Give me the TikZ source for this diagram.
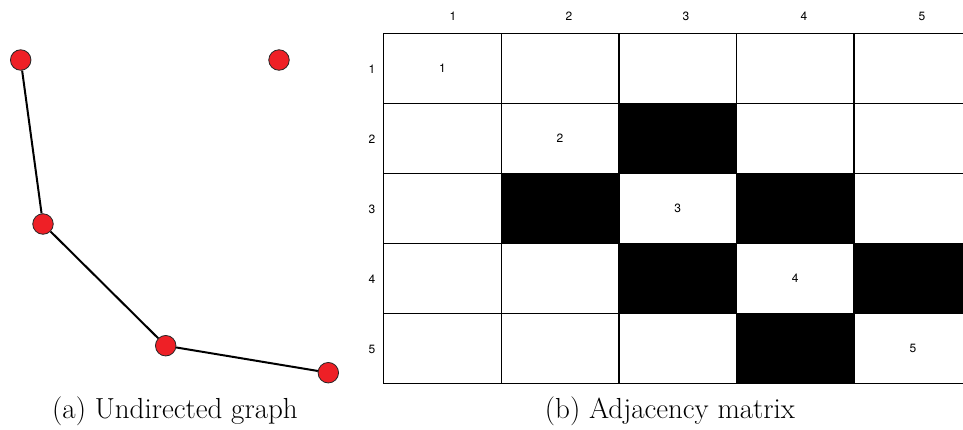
\documentclass[tikz,border=0pt]{standalone}
\usepackage{fontspec}
\newfontfamily\numfont{TeX Gyre Heros}
\definecolor{nodered}{HTML}{EE2026}
\tikzset{
  vtx/.style={circle, draw=black!85, line width=0.8pt, fill=nodered, minimum size=20.5pt, inner sep=0pt},
  edge/.style={line width=2pt, black},
  cell/.style={draw=black, line width=1.3pt, minimum width=117.6pt, minimum height=70pt, inner sep=0pt, anchor=north west, font=\numfont\fontsize{12}{14}\selectfont},
  blk/.style={cell, fill=black},
  lbl/.style={font=\numfont\fontsize{12}{14}\selectfont, inner sep=0pt},
  captext/.style={font=\fontsize{29}{33}\selectfont, inner sep=0pt}
}
\begin{document}
\begin{tikzpicture}[x=1pt, y=-1pt]
\useasboundingbox (0,0) rectangle (963,429);
\fill[white] (0,0) rectangle (963,429);
% graph
\node[vtx] (v1) at (20.7,60) {};
\node[vtx] (v2) at (279,60) {};
\node[vtx] (v3) at (43,224) {};
\node[vtx] (v4) at (165.7,345.7) {};
\node[vtx] (v5) at (328.3,372.7) {};
\draw[edge] (v1) -- (v3);
\draw[edge] (v3) -- (v4);
\draw[edge] (v4) -- (v5);
% matrix
\begin{scope}
\clip (0,0) rectangle (963,429);
\foreach \r in {1,...,5}{
  \foreach \c in {1,...,5}{
    \pgfmathtruncatemacro{\d}{abs(\r-\c)}
    \pgfmathtruncatemacro{\m}{min(\r,\c)}
    \ifnum\d=1
      \ifnum\m>1
        \node[blk] (c\r\c) at ({383+(\c-1)*117.6},{33+(\r-1)*70}) {};
      \else
        \node[cell] (c\r\c) at ({383+(\c-1)*117.6},{33+(\r-1)*70}) {};
      \fi
    \else
      \ifnum\d=0
        \node[cell] (c\r\c) at ({383+(\c-1)*117.6},{33+(\r-1)*70}) {\r};
      \else
        \node[cell] (c\r\c) at ({383+(\c-1)*117.6},{33+(\r-1)*70}) {};
      \fi
    \fi
  }
}
\end{scope}
% column labels
\node[lbl] (h1) at (453,16) {1};
\node[lbl] (h2) at (569,16) {2};
\node[lbl] (h3) at (686,16) {3};
\node[lbl] (h4) at (804,16) {4};
\node[lbl] (h5) at (922,16) {5};
% row labels
\node[lbl] (r1) at (372,69) {1};
\node[lbl] (r2) at (372,139) {2};
\node[lbl] (r3) at (372,209) {3};
\node[lbl] (r4) at (372,279) {4};
\node[lbl] (r5) at (372,349) {5};
% captions
\node[captext] (capa) at (175,411) {(a) Undirected graph};
\node[captext] (capb) at (670,411) {(b) Adjacency matrix};
\end{tikzpicture}
\end{document}
